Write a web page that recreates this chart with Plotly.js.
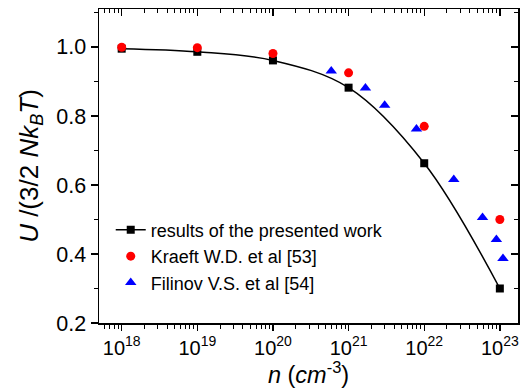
<!DOCTYPE html>
<html>
<head>
<meta charset="utf-8">
<script src="https://cdn.plot.ly/plotly-3.0.1.min.js"></script>
<style>
  html, body { margin: 0; padding: 0; background: #fff; }
  #chart { width: 521px; height: 388px; }
</style>
</head>
<body>
<div id="chart"></div>
<script>
// Density n (cm^-3) and reduced internal energy U/(3/2 N k_B T)
const workN = [1e18, 1e19, 1e20, 1e21, 1e22, 1e23];
const workU = [0.995, 0.986, 0.961, 0.882, 0.663, 0.300];

const kraeftN = [1e18, 1e19, 1e20, 1e21, 1e22, 1e23];
const kraeftU = [0.999, 0.998, 0.981, 0.925, 0.770, 0.500];

const filinovN = [5.9e20, 1.67e21, 3.0e21, 7.9e21, 2.46e22, 5.9e22, 9.0e22, 1.1e23];
const filinovU = [0.930, 0.881, 0.831, 0.762, 0.616, 0.506, 0.442, 0.387];

const xTickVals = [1e18, 1e19, 1e20, 1e21, 1e22, 1e23];
const xTickText = ['10<sup>18</sup>', '10<sup>19</sup>', '10<sup>20</sup>',
                   '10<sup>21</sup>', '10<sup>22</sup>', '10<sup>23</sup>'];

const labels = {
  work: 'results of the presented work',
  kraeft: 'Kraeft W.D. et al [53]',
  filinov: 'Filinov V.S. et al [54]'
};

const FONT = 'Arial, "Liberation Sans", sans-serif';
const xRange = [17.7, 23.24];
const yRange = [0.2, 1.11];

const traces = [
  {
    x: workN, y: workU, name: labels.work, type: 'scatter', mode: 'lines+markers',
    line: { color: '#000', width: 1.5, shape: 'spline', smoothing: 1 },
    marker: { symbol: 'square', size: 8, color: '#000' }
  },
  {
    x: kraeftN, y: kraeftU, name: labels.kraeft, type: 'scatter', mode: 'markers',
    marker: { symbol: 'circle', size: 9, color: '#ff0000' }
  },
  {
    x: filinovN, y: filinovU, name: labels.filinov, type: 'scatter', mode: 'markers',
    marker: { symbol: 'triangle-up', size: 10, color: '#0000ff' }
  },
  // empty trace that anchors the mirrored top/right axes
  { x: [], y: [], xaxis: 'x2', yaxis: 'y2', showlegend: false, hoverinfo: 'skip' }
];

const layout = {
  width: 521, height: 388,
  margin: { l: 99, r: 3, t: 9, b: 65 },
  paper_bgcolor: '#fff', plot_bgcolor: '#fff',
  font: { family: FONT, color: '#000' },
  showlegend: true,
  legend: {
    x: 0.028, y: 0.355, xanchor: 'left', yanchor: 'top',
    bgcolor: 'rgba(0,0,0,0)', font: { size: 18, family: FONT },
    tracegroupgap: 0, itemwidth: 30
  },
  xaxis: {
    type: 'log', range: xRange, showgrid: false, zeroline: false,
    showline: true, linecolor: '#000', linewidth: 1.5,
    ticks: 'outside', ticklen: 6, tickwidth: 1.3, tickcolor: '#000',
    tickvals: xTickVals, ticktext: xTickText,
    tickfont: { size: 20, family: FONT },
    minor: { dtick: 'D1', ticks: 'outside', ticklen: 4, tickwidth: 1, tickcolor: '#000' },
    title: { text: '<i>n</i> (<i>cm</i><sup>-3</sup>)', font: { size: 23.5, family: FONT }, standoff: 5 }
  },
  yaxis: {
    range: yRange, showgrid: false, zeroline: false,
    showline: true, linecolor: '#000', linewidth: 1.5,
    ticks: 'outside', ticklen: 7, tickwidth: 1.3, tickcolor: '#000',
    tick0: 0.2, dtick: 0.2, tickformat: '.1f',
    tickfont: { size: 21.5, family: FONT },
    minor: { dtick: 0.1, ticks: 'outside', ticklen: 4, tickwidth: 1, tickcolor: '#000' },
    title: { text: '<i>U</i> /(3/2 <i>Nk</i><sub><i>B</i></sub><i>T</i>)', font: { size: 26, family: FONT }, standoff: 10 }
  },
  xaxis2: {
    type: 'log', range: xRange, overlaying: 'x', side: 'top', anchor: 'y2',
    showgrid: false, zeroline: false, showline: true, linecolor: '#000', linewidth: 1.5,
    ticks: 'inside', ticklen: 7, tickwidth: 1.3, tickcolor: '#000',
    tickvals: xTickVals, showticklabels: false,
    minor: { dtick: 'D1', ticks: 'inside', ticklen: 4, tickwidth: 1, tickcolor: '#000' }
  },
  yaxis2: {
    range: yRange, overlaying: 'y', side: 'right', anchor: 'x2',
    showgrid: false, zeroline: false, showline: true, linecolor: '#000', linewidth: 1.5,
    ticks: 'inside', ticklen: 7, tickwidth: 1.3, tickcolor: '#000',
    tick0: 0.2, dtick: 0.2, showticklabels: false,
    minor: { dtick: 0.1, ticks: 'inside', ticklen: 4, tickwidth: 1, tickcolor: '#000' }
  }
};

Plotly.newPlot('chart', traces, layout, { staticPlot: true, displayModeBar: false });
</script>
</body>
</html>
